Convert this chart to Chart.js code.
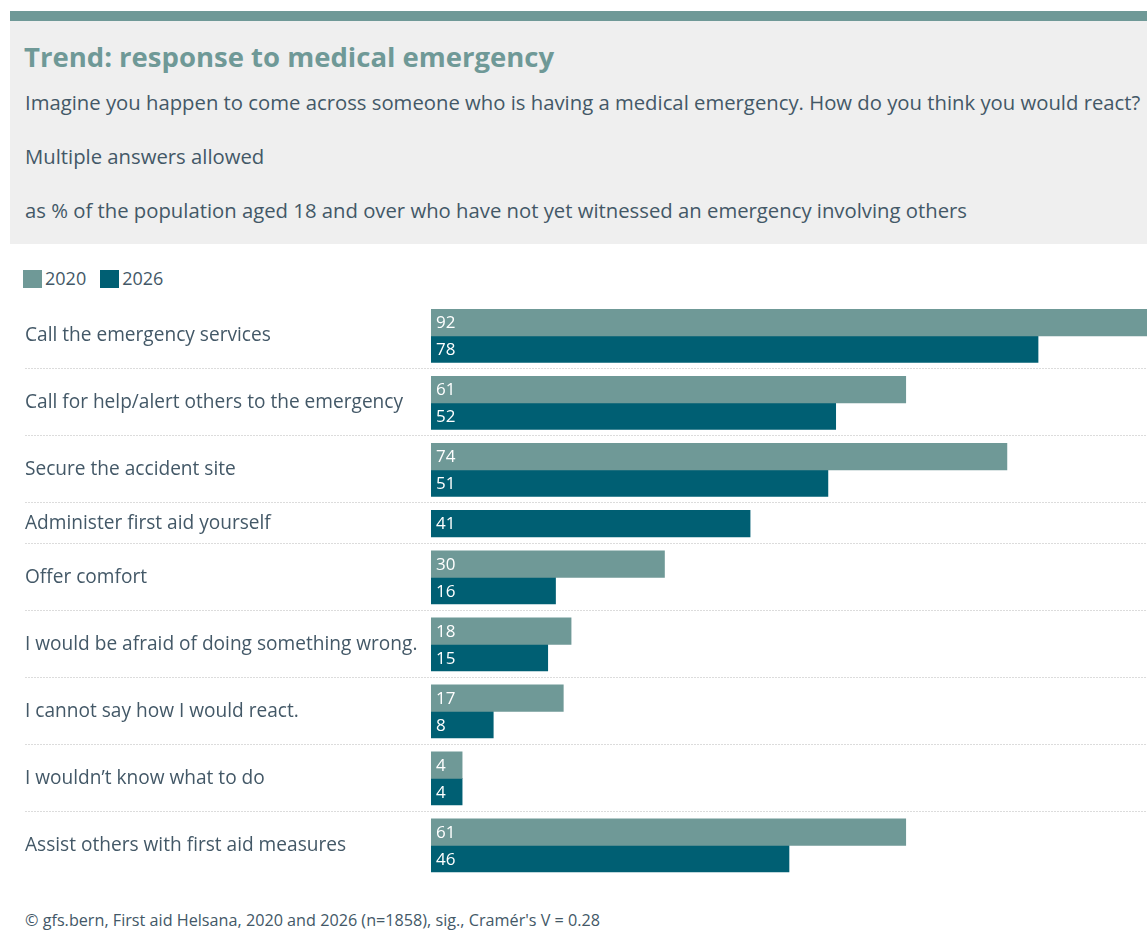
<!DOCTYPE html>
<html>
<head>
<meta charset="utf-8">
<title>Trend: response to medical emergency</title>
<script src="https://cdn.jsdelivr.net/npm/chart.js@4/dist/chart.umd.min.js"></script>
<style>
  body {
    margin: 0;
    width: 1147px;
    height: 937px;
    position: relative;
    overflow: hidden;
    background: #ffffff;
    font-family: "Open Sans", "Noto Sans", sans-serif;
    color: #435867;
  }
  .topbar {
    position: absolute;
    left: 10px; top: 11px;
    width: 1137px; height: 10px;
    background: #6f9997;
  }
  .header {
    position: absolute;
    left: 10px; top: 21px;
    width: 1137px; height: 223px;
    background: #efefef;
  }
  .line {
    position: absolute;
    left: 25px;
    margin: 0;
    white-space: nowrap;
    line-height: 1;
  }
  h1.line {
    left: 24px;
    top: 43px;
    font-size: 27.5px;
    font-weight: 700;
    color: #6f9997;
  }
  .sub { font-size: 20.3px; }
  #legend {
    position: absolute;
    left: 23px; top: 269px;
    display: flex;
    font-size: 18px;
    line-height: 18px;
  }
  #legend span.item { display: flex; align-items: flex-start; margin-right: 14px; }
  #legend span.box { width: 19px; height: 18px; margin: 1px 3px 0 0; }
  .chart-wrap {
    position: absolute;
    left: 0; top: 290px;
    width: 1147px; height: 600px;
  }
  .source { font-size: 16.2px; top: 912px; }
</style>
</head>
<body>
<div class="topbar"></div>
<div class="header"></div>
<h1 class="line">Trend: response to medical emergency</h1>
<p class="line sub" style="top:92px">Imagine you happen to come across someone who is having a medical emergency. How do you think you would react?</p>
<p class="line sub" style="top:146px">Multiple answers allowed</p>
<p class="line sub" style="top:200px">as % of the population aged 18 and over who have not yet witnessed an emergency involving others</p>
<div id="legend"></div>
<div class="chart-wrap"><canvas id="trendChart"></canvas></div>
<p class="line source">© gfs.bern, First aid Helsana, 2020 and 2026 (n=1858), sig., Cramér's V = 0.28</p>

<script>
const categories = [
    "Call the emergency services",
    "Call for help/alert others to the emergency",
    "Secure the accident site",
    "Administer first aid yourself",
    "Offer comfort",
    "I would be afraid of doing something wrong.",
    "I cannot say how I would react.",
    "I wouldn’t know what to do",
    "Assist others with first aid measures"
];

const seriesNames = ["2020", "2026"];
const values2020 = [92, 61, 74, null, 30, 18, 17, 4, 61];
const values2026 = [78, 52, 51, 41, 16, 15, 8, 4, 46];
const seriesColors = ["#6f9997", "#005f73"];

const fontFamily = "'Open Sans', 'Noto Sans', sans-serif";
const textColor = "#435867";

// Each answer is a block of bars one unit high; blocks get some space above and below.
const PAD_TOP = 0.30;
const PAD_BOTTOM = 0.23;

const series = [values2020, values2026];
let cursor = 0;
const rows = categories.map((name, i) => {
    const top = cursor;
    let y = top + PAD_TOP;
    const slots = series.map(vals => {
        if (vals[i] === null) return null;
        const c = y + 0.5;
        y += 1;
        return c;
    });
    const barsTop = top + PAD_TOP;
    const center = (barsTop + y) / 2;
    cursor = y + PAD_BOTTOM;
    return { top, center, slots };
});
const totalUnits = cursor;

// html legend
const legend = document.getElementById("legend");
seriesNames.forEach((name, s) => {
    const item = document.createElement("span");
    item.className = "item";
    const box = document.createElement("span");
    box.className = "box";
    box.style.background = seriesColors[s];
    item.appendChild(box);
    item.appendChild(document.createTextNode(name));
    legend.appendChild(item);
});

const rowSeparators = {
    id: "rowSeparators",
    beforeDatasetsDraw(chart) {
        const { ctx } = chart;
        const yScale = chart.scales.y;
        ctx.save();
        ctx.strokeStyle = "#dcdcdc";
        ctx.lineWidth = 1;
        ctx.setLineDash([2, 1]);
        rows.slice(1).forEach(r => {
            const py = Math.round(yScale.getPixelForValue(r.top)) + 0.5;
            ctx.beginPath();
            ctx.moveTo(yScale.left, py);
            ctx.lineTo(chart.width, py);
            ctx.stroke();
        });
        ctx.restore();
    }
};

const barValues = {
    id: "barValues",
    afterDatasetsDraw(chart) {
        const { ctx } = chart;
        ctx.save();
        ctx.fillStyle = "#ffffff";
        ctx.font = "17px " + fontFamily;
        ctx.textBaseline = "middle";
        ctx.textAlign = "left";
        chart.data.datasets.forEach((ds, d) => {
            chart.getDatasetMeta(d).data.forEach((bar, j) => {
                ctx.fillText(String(ds.data[j].x), bar.base + 5, bar.y + 1);
            });
        });
        ctx.restore();
    }
};

const ctx = document.getElementById("trendChart").getContext("2d");

new Chart(ctx, {
    type: "bar",
    data: {
        datasets: series.map((vals, s) => ({
            label: seriesNames[s],
            data: vals
                .map((v, i) => (v === null ? null : { x: v, y: rows[i].slots[s] }))
                .filter(p => p !== null),
            backgroundColor: seriesColors[s],
            borderWidth: 0,
            grouped: false,
            barPercentage: 1,
            categoryPercentage: 1
        }))
    },
    options: {
        indexAxis: "y",
        responsive: true,
        maintainAspectRatio: false,
        animation: false,
        layout: {
            padding: { left: 25, top: 11, right: 0, bottom: 12 }
        },
        plugins: {
            legend: { display: false },
            tooltip: { enabled: false }
        },
        scales: {
            x: {
                type: "linear",
                min: 0,
                max: 92,
                display: false
            },
            y: {
                type: "linear",
                reverse: true,
                offset: false,
                min: 0,
                max: totalUnits,
                afterBuildTicks: axis => {
                    axis.ticks = rows.map(r => ({ value: r.center }));
                },
                afterFit: axis => {
                    axis.width = 406;
                },
                grid: { display: false },
                border: { display: false },
                ticks: {
                    autoSkip: false,
                    crossAlign: "far",
                    padding: 0,
                    color: textColor,
                    font: { family: fontFamily, size: 19.1 },
                    callback: (value, index) => categories[index]
                }
            }
        }
    },
    plugins: [rowSeparators, barValues]
});
</script>
</body>
</html>
